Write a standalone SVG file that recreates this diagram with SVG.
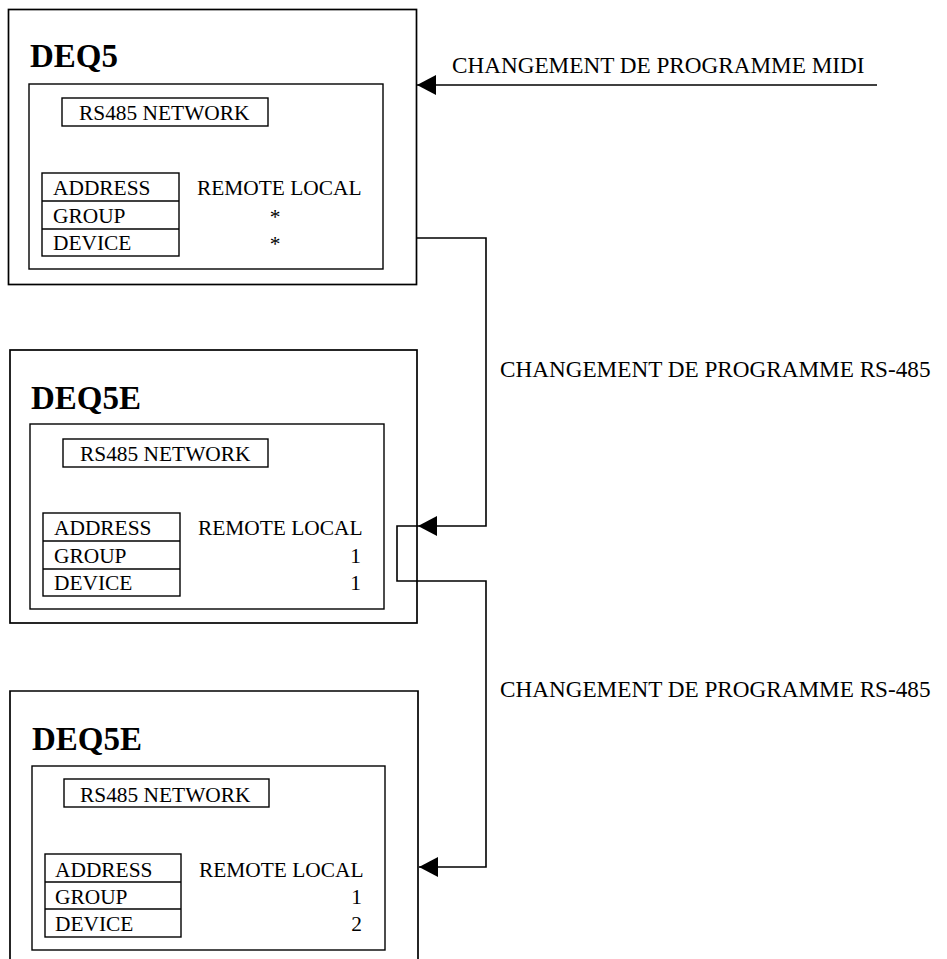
<svg xmlns="http://www.w3.org/2000/svg" width="947" height="959" viewBox="0 0 947 959">
<defs>
<style>
.box{fill:none;stroke:#000;stroke-width:1.7}
.thin{fill:none;stroke:#000;stroke-width:1.4}
.conn{fill:none;stroke:#000;stroke-width:1.6}
text{font-family:"Liberation Serif","Times New Roman",serif;fill:#000}
.title{font-size:33px;font-weight:bold}
.t{font-size:21.4px}
.lab{font-size:23.2px}
.r{text-anchor:end}
.m{text-anchor:middle}
</style>
<marker id="arr" markerUnits="userSpaceOnUse" markerWidth="20" markerHeight="20" refX="19" refY="10" orient="auto">
<path d="M0,0 L19,10 L0,20 Z" fill="#000"/>
</marker>
</defs>
<rect width="947" height="959" fill="#fff"/>

<g id="deq5">
<rect class="box" x="8.5" y="9.5" width="408" height="275"/>
<text class="title" x="30" y="67">DEQ5</text>
<rect class="thin" x="29" y="84" width="354" height="185"/>
<rect class="thin" x="62" y="98" width="206" height="28"/>
<text class="t" x="79" y="120">RS485 NETWORK</text>
<rect class="thin" x="42" y="173" width="137" height="83"/>
<line class="thin" x1="42" y1="201" x2="179" y2="201"/>
<line class="thin" x1="42" y1="229" x2="179" y2="229"/>
<text class="t" x="53" y="195">ADDRESS</text>
<text class="t" x="53" y="223">GROUP</text>
<text class="t" x="53" y="250">DEVICE</text>
<text class="t" x="197" y="195">REMOTE LOCAL</text>
<text class="t m" x="275" y="224">*</text>
<text class="t m" x="275" y="251">*</text>
</g>

<g id="deq5e-1">
<rect class="box" x="10" y="350" width="407" height="273"/>
<text class="title" x="31" y="409">DEQ5E</text>
<rect class="thin" x="30" y="424" width="354" height="185"/>
<rect class="thin" x="63" y="439" width="205" height="28"/>
<text class="t" x="80" y="461">RS485 NETWORK</text>
<rect class="thin" x="43" y="513" width="137" height="83"/>
<line class="thin" x1="43" y1="541" x2="180" y2="541"/>
<line class="thin" x1="43" y1="569" x2="180" y2="569"/>
<text class="t" x="54" y="535">ADDRESS</text>
<text class="t" x="54" y="563">GROUP</text>
<text class="t" x="54" y="590">DEVICE</text>
<text class="t" x="198" y="535">REMOTE LOCAL</text>
<text class="t r" x="361" y="563">1</text>
<text class="t r" x="361" y="590">1</text>
</g>

<g id="deq5e-2">
<path class="box" d="M10,965 V691 H418 V965"/>
<text class="title" x="32" y="750">DEQ5E</text>
<rect class="thin" x="32" y="766" width="353" height="184"/>
<rect class="thin" x="64" y="779" width="205" height="28"/>
<text class="t" x="80" y="802">RS485 NETWORK</text>
<rect class="thin" x="45" y="854" width="136" height="83"/>
<line class="thin" x1="45" y1="882" x2="181" y2="882"/>
<line class="thin" x1="45" y1="909" x2="181" y2="909"/>
<text class="t" x="55" y="877">ADDRESS</text>
<text class="t" x="55" y="904">GROUP</text>
<text class="t" x="55" y="931">DEVICE</text>
<text class="t" x="199" y="877">REMOTE LOCAL</text>
<text class="t r" x="362" y="904">1</text>
<text class="t r" x="362" y="931">2</text>
</g>

<g id="connectors">
<path class="conn" d="M877,85 H417" marker-end="url(#arr)"/>
<path class="conn" d="M417,238 H486 V526 H418" marker-end="url(#arr)"/>
<path class="conn" d="M418,526 H397 V581 H486 V867 H419" marker-end="url(#arr)"/>
<text class="lab" x="452" y="73">CHANGEMENT DE PROGRAMME MIDI</text>
<text class="lab" x="500" y="377">CHANGEMENT DE PROGRAMME RS-485</text>
<text class="lab" x="500" y="697">CHANGEMENT DE PROGRAMME RS-485</text>
</g>
</svg>
